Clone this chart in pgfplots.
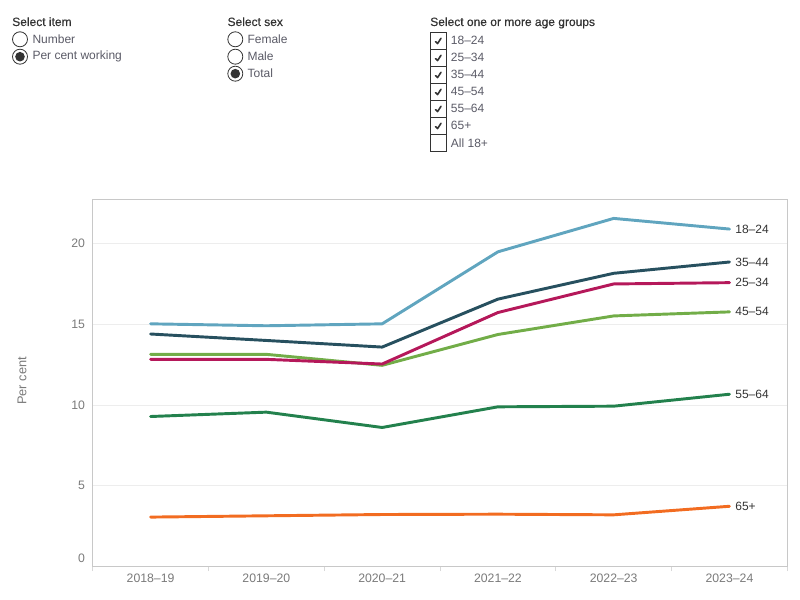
\documentclass[border=0pt]{standalone}
\usepackage{pgfplots}
\pgfplotsset{compat=1.18}
\usepackage{fontspec}
\setmainfont{Liberation Sans}
\newfontfamily\headfont{Liberation Sans}[FakeBold=0.45]

\definecolor{cA}{HTML}{60A5BF} % 18-24
\definecolor{cB}{HTML}{B5185A} % 25-34
\definecolor{cC}{HTML}{27505F} % 35-44
\definecolor{cD}{HTML}{72AD48} % 45-54
\definecolor{cE}{HTML}{23814D} % 55-64
\definecolor{cF}{HTML}{F26C21} % 65+
\definecolor{headc}{HTML}{333333}
\definecolor{optc}{HTML}{5A5A66}
\definecolor{tickc}{HTML}{7A7A7A}
\definecolor{framec}{HTML}{C8C8C8}
\definecolor{gridc}{HTML}{EDEDED}
\definecolor{labc}{HTML}{333333}

\begin{document}
\begin{tikzpicture}[font=\fontsize{9}{11}\selectfont]
\useasboundingbox (0,0) rectangle (600pt,450pt);

\begin{scope}[x=0.75pt,y=-0.75pt,yshift=450pt]
% ---- filter panel: item ----
\node[anchor=base west,text=headc,inner sep=0,font=\headfont\fontsize{9}{11}\selectfont] at (12,26) {Select item};
\draw[headc,line width=0.6pt,fill=white] (20,39.3) circle (7.5);
\node[anchor=west,text=optc,inner sep=0] at (32.3,39.3) {Number};
\draw[headc,line width=0.6pt,fill=white] (20,56.7) circle (7.5);
\fill[headc] (20,56.7) circle (4.8);
\node[anchor=west,text=optc,inner sep=0] at (32.3,56.7) {Per cent working};

% ---- filter panel: sex ----
\node[anchor=base west,text=headc,inner sep=0,font=\headfont\fontsize{9}{11}\selectfont] at (227.3,26) {Select sex};
\draw[headc,line width=0.6pt,fill=white] (235.3,39.3) circle (7.5);
\node[anchor=west,text=optc,inner sep=0] at (247.3,39.3) {Female};
\draw[headc,line width=0.6pt,fill=white] (235.3,56.7) circle (7.5);
\node[anchor=west,text=optc,inner sep=0] at (247.3,56.7) {Male};
\draw[headc,line width=0.6pt,fill=white] (235.3,73.7) circle (7.5);
\fill[headc] (235.3,73.7) circle (4.8);
\node[anchor=west,text=optc,inner sep=0] at (247.3,73.7) {Total};

% ---- filter panel: age groups ----
\node[anchor=base west,text=headc,inner sep=0,font=\headfont\fontsize{9}{11}\selectfont] at (430,26) {Select one or more age groups};
\foreach \lab [count=\i from 0] in {18–24,25–34,35–44,45–54,55–64,65+,All 18+} {
  \pgfmathsetmacro{\top}{32.3+17*\i}
  \draw[headc,line width=0.6pt] (430.7,\top) rectangle (446.7,\top+17);
  \node[anchor=west,text=optc,inner sep=0] at (450.7,\top+8.5) {\lab};
}
\foreach \i in {0,...,5} {
  \pgfmathsetmacro{\top}{32.3+17*\i}
  \draw[headc,line width=1.2pt,line cap=round,line join=round]
    (435.5,\top+9.3) -- (437.5,\top+11.3) -- (441,\top+6);
}
\end{scope}

% ---- chart ----
\begin{axis}[
  at={(69.525pt,25.125pt)}, anchor=south west,
  scale only axis, width=521pt, height=275.6pt,
  xmin=-0.5, xmax=5.5, ymin=0, ymax=22.76,
  xtick={0,...,5},
  xticklabels={2018–19,2019–20,2020–21,2021–22,2022–23,2023–24},
  ytick={5,10,15,20},
  extra y ticks={0},
  extra y tick style={grid=none, yticklabel style={yshift=6.4pt}},
  minor xtick={-0.5,0.5,...,5.5},
  major tick length=0pt, minor tick length=3.5pt,
  tick align=outside, tick pos=left,
  minor tick style={framec!70, line width=0.6pt},
  ymajorgrids, grid style={gridc, line width=0.75pt},
  axis line style={framec, line width=0.75pt},
  tick label style={text=tickc, font=\fontsize{9.2}{11}\selectfont, inner sep=0pt},
  /pgf/number format/assume math mode=true,
  xticklabel style={yshift=-5.5pt},
  yticklabel style={xshift=-5.6pt},
  ylabel={Per cent},
  ylabel style={at={(axis description cs:-0.1018,0.505)}, anchor=center,
    text=tickc, font=\fontsize{9.6}{11}\selectfont},
  every axis plot/.append style={line width=2.2pt, line join=round, line cap=round},
  clip=false,
]
% 18-24
\addplot[cA] coordinates {(0,15.03) (1,14.91) (2,15.03) (3,19.49) (4,21.56) (5,20.90)}
  node[pos=1,anchor=west,text=labc] {18–24};
% 35-44
\addplot[cC] coordinates {(0,14.40) (1,14.00) (2,13.59) (3,16.56) (4,18.16) (5,18.86)}
  node[pos=1,anchor=west,text=labc] {35–44};
% 45-54
\addplot[cD] coordinates {(0,13.14) (1,13.14) (2,12.46) (3,14.37) (4,15.52) (5,15.77)}
  node[pos=1,anchor=west,text=labc] {45–54};
% 25-34
\addplot[cB] coordinates {(0,12.83) (1,12.83) (2,12.54) (3,15.73) (4,17.50) (5,17.58)}
  node[pos=1,anchor=west,text=labc] {25–34};
% 55-64
\addplot[cE] coordinates {(0,9.29) (1,9.56) (2,8.61) (3,9.89) (4,9.93) (5,10.67)}
  node[pos=1,anchor=west,text=labc] {55–64};
% 65+
\addplot[cF] coordinates {(0,3.06) (1,3.14) (2,3.22) (3,3.24) (4,3.20) (5,3.73)}
  node[pos=1,anchor=west,text=labc] {65+};
\end{axis}
\end{tikzpicture}
\end{document}
